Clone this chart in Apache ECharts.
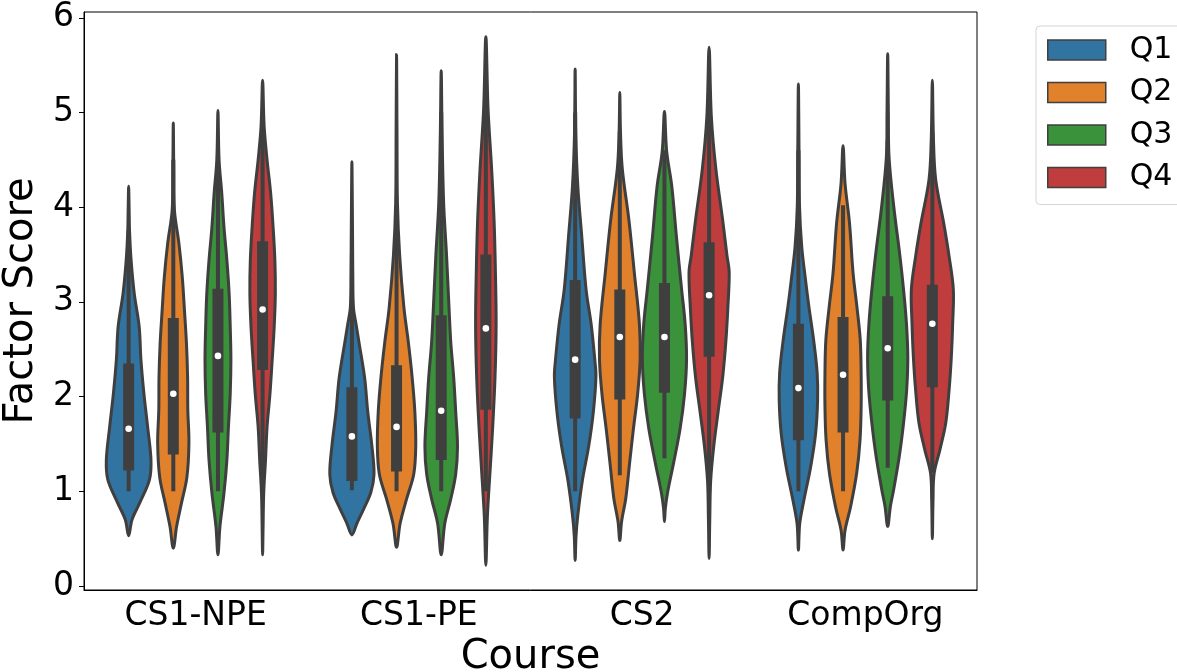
<!DOCTYPE html>
<html>
<head>
<meta charset="utf-8">
<script src="https://cdn.jsdelivr.net/npm/echarts@6/dist/echarts.min.js"></script>
<style>
  html, body { margin: 0; padding: 0; background: #fff; }
  #chart { width: 1177px; height: 672px; }
</style>
</head>
<body>
<div id="chart"></div>
<script>
// categories and hues
var courses = ['CS1-NPE', 'CS1-PE', 'CS2', 'CompOrg'];
var hues = ['Q1', 'Q2', 'Q3', 'Q4'];
var hueColors = ['#3274a1', '#e1812c', '#3a923a', '#c03d3e'];
var yTicks = [0, 1, 2, 3, 4, 5, 6];

// box stats, [hue][course]
var medians   = [[1.66, 1.58, 2.39, 2.09], [2.03, 1.68, 2.63, 2.23], [2.43, 1.85, 2.63, 2.51], [2.92, 2.72, 3.07, 2.77]];
var lowerQ    = [[1.22, 1.11, 1.77, 1.54], [1.39, 1.21, 1.97, 1.62], [1.62, 1.33, 2.04, 1.96], [2.28, 1.86, 2.42, 2.10]];
var upperQ    = [[2.35, 2.10, 3.23, 2.77], [2.83, 2.33, 3.13, 2.84], [3.14, 2.86, 3.20, 3.06], [3.64, 3.50, 3.63, 3.18]];
var whiskerLo = [[1.00, 1.01, 1.00, 1.00], [1.00, 1.00, 1.17, 1.00], [1.00, 1.00, 1.35, 1.25], [1.00, 1.00, 1.00, 1.20]];
var whiskerHi = [[3.75, 3.50, 5.00, 4.60], [4.50, 3.90, 4.80, 4.02], [4.60, 5.00, 4.60, 4.70], [4.90, 5.30, 5.25, 4.80]];

// density profiles [score, relative density], one list per course
var q1Density = [
  [[0.53,0],[0.70,0.15],[0.88,0.5],[1.12,0.93],[1.33,1.0],[1.68,0.85],[2.04,0.68],[2.39,0.55],[2.74,0.47],[3.09,0.25],[3.44,0.11],[3.75,0.04],[4.0,0.02],[4.22,0]],
  [[0.54,0],[0.66,0.22],[0.81,0.52],[0.99,0.85],[1.18,0.99],[1.47,0.9],[1.84,0.71],[2.20,0.57],[2.57,0.32],[2.76,0.19],[2.94,0.07],[3.3,0.04],[3.67,0.03],[4.0,0.02],[4.48,0]],
  [[0.27,0],[0.53,0.04],[0.75,0.12],[1.11,0.32],[1.48,0.61],[1.85,0.82],[2.21,0.93],[2.39,0.88],[2.76,0.72],[3.13,0.49],[3.68,0.3],[4.22,0.12],[4.77,0.03],[5.46,0]],
  [[0.38,0],[0.66,0.06],[0.91,0.25],[1.26,0.55],[1.61,0.77],[1.96,0.86],[2.25,0.84],[2.60,0.68],[2.95,0.47],[3.23,0.32],[3.58,0.15],[4.01,0.05],[4.53,0.03],[5.30,0]]
];
var q2Density = [
  [[0.40,0],[0.63,0.15],[0.88,0.37],[1.15,0.61],[1.51,0.7],[1.86,0.65],[2.21,0.64],[2.56,0.59],[2.91,0.5],[3.27,0.4],[3.62,0.25],[3.97,0.05],[4.4,0.02],[4.89,0]],
  [[0.41,0],[0.66,0.16],[0.92,0.45],[1.18,0.77],[1.47,0.86],[1.84,0.82],[2.20,0.7],[2.57,0.53],[2.94,0.33],[3.49,0.14],[4.04,0.04],[4.8,0.02],[5.61,0]],
  [[0.48,0],[0.68,0.08],[0.93,0.27],[1.30,0.44],[1.66,0.61],[2.03,0.8],[2.39,0.91],[2.76,0.88],[3.31,0.65],[3.86,0.41],[4.41,0.11],[4.8,0.03],[5.21,0]],
  [[0.38,0],[0.59,0.09],[0.84,0.34],[1.19,0.61],[1.54,0.76],[1.89,0.81],[2.25,0.81],[2.60,0.77],[2.95,0.62],[3.30,0.45],[3.83,0.29],[4.25,0.09],[4.65,0]]
];
var q3Density = [
  [[0.33,0],[0.63,0.09],[0.98,0.27],[1.33,0.4],[1.68,0.47],[2.03,0.55],[2.39,0.58],[2.74,0.55],[3.09,0.5],[3.44,0.4],[3.79,0.27],[4.15,0.17],[4.50,0.05],[5.02,0]],
  [[0.33,0],[0.66,0.16],[0.92,0.43],[1.18,0.65],[1.47,0.73],[1.84,0.65],[2.20,0.56],[2.57,0.43],[2.94,0.35],[3.49,0.24],[4.04,0.11],[4.77,0.04],[5.44,0]],
  [[0.68,0],[0.82,0.04],[1.0,0.15],[1.30,0.41],[1.66,0.7],[2.03,0.9],[2.39,0.99],[2.76,0.93],[3.13,0.77],[3.68,0.54],[4.22,0.33],[4.59,0.1],[5.01,0]],
  [[0.63,0],[0.84,0.12],[1.01,0.26],[1.37,0.52],[1.72,0.71],[2.07,0.85],[2.42,0.9],[2.77,0.84],[3.13,0.71],[3.48,0.55],[4.01,0.27],[4.53,0.06],[5.0,0.03],[5.62,0]]
];
var q4Density = [
  [[0.33,0],[0.6,0.02],[0.98,0.05],[1.33,0.13],[1.68,0.2],[2.03,0.33],[2.39,0.43],[2.74,0.52],[3.09,0.57],[3.44,0.55],[3.79,0.47],[4.15,0.36],[4.50,0.2],[4.85,0.07],[5.34,0]],
  [[0.22,0],[0.74,0.07],[1.18,0.18],[1.65,0.3],[2.20,0.41],[2.76,0.46],[3.30,0.43],[3.85,0.37],[4.40,0.26],[5.03,0.1],[5.80,0]],
  [[0.29,0],[0.7,0.03],[1.11,0.07],[1.48,0.21],[1.85,0.41],[2.21,0.61],[2.58,0.75],[2.94,0.84],[3.31,0.9],[3.49,0.8],[3.86,0.61],[4.41,0.3],[4.96,0.1],[5.69,0]],
  [[0.50,0],[0.9,0.03],[1.19,0.08],[1.44,0.34],[1.72,0.6],[2.07,0.75],[2.42,0.85],[2.77,0.91],[3.13,0.94],[3.48,0.75],[3.83,0.51],[4.29,0.15],[4.71,0.05],[5.34,0]]
];
var densities = [q1Density, q2Density, q3Density, q4Density];

var EDGE = '#3f3f3f';
var FONT = 'DejaVu Sans';

function violinRenderer(h) {
  return function (params, api) {
    var c = api.value(0);
    var base = api.coord([c, 0]);
    var band = api.size([1, 0])[0];
    var cx = base[0] + (h - 1.5) * band * 0.2;
    var half = band * 0.1;
    var prof = densities[h][c];
    var right = prof.map(function (p) { return [cx + p[1] * half, api.coord([c, p[0]])[1]]; });
    var left = prof.slice(1, -1).reverse().map(function (p) { return [cx - p[1] * half, api.coord([c, p[0]])[1]]; });
    var yLo = api.coord([c, whiskerLo[h][c]])[1];
    var yHi = api.coord([c, whiskerHi[h][c]])[1];
    var yQ1 = api.coord([c, lowerQ[h][c]])[1];
    var yQ3 = api.coord([c, upperQ[h][c]])[1];
    var yMed = api.coord([c, medians[h][c]])[1];
    var boxW = 11;
    return {
      type: 'group',
      children: [
        {
          type: 'polygon',
          shape: { points: right.concat(left), smooth: 0.35 },
          style: { fill: hueColors[h], stroke: EDGE, lineWidth: 3 }
        },
        {
          type: 'line',
          shape: { x1: cx, y1: yLo, x2: cx, y2: yHi },
          style: { stroke: EDGE, lineWidth: 4 }
        },
        {
          type: 'rect',
          shape: { x: cx - boxW / 2, y: yQ3, width: boxW, height: yQ1 - yQ3 },
          style: { fill: EDGE }
        },
        {
          type: 'circle',
          shape: { cx: cx, cy: yMed, r: 3.3 },
          style: { fill: '#fff' }
        }
      ]
    };
  };
}

var chart = echarts.init(document.getElementById('chart'));

var series = hues.map(function (name, h) {
  return {
    name: name,
    type: 'custom',
    renderItem: violinRenderer(h),
    itemStyle: { color: hueColors[h], borderColor: EDGE, borderWidth: 1.5 },
    data: courses.map(function (cname, c) { return [c, medians[h][c]]; })
  };
});

var option = {
  animation: false,
  backgroundColor: '#fff',
  textStyle: { fontFamily: FONT },
  grid: {
    left: 84, right: 200, top: 12, bottom: 82,
    outerBoundsMode: 'none',
    containLabel: false,
    show: true, borderColor: '#000', borderWidth: 1, backgroundColor: 'transparent'
  },
  legend: {
    orient: 'vertical',
    left: 1036,
    top: 26,
    padding: [9, 60, 12, 11],
    itemWidth: 58,
    itemHeight: 20,
    itemGap: 12.5,
    icon: 'rect',
    borderColor: '#d5d5d5',
    borderWidth: 1,
    borderRadius: 4,
    textStyle: { fontFamily: FONT, fontSize: 30, color: '#000', lineHeight: 26, padding: [0, 0, 0, 19] },
    data: hues.map(function (name, h) {
      return { name: name, itemStyle: { color: hueColors[h], borderColor: EDGE, borderWidth: 1.5 } };
    })
  },
  xAxis: {
    type: 'category',
    data: courses,
    boundaryGap: true,
    name: 'Course',
    nameLocation: 'middle',
    nameGap: 42,
    nameTextStyle: { fontFamily: FONT, fontSize: 40, color: '#000', verticalAlign: 'top' },
    axisLine: { onZero: false, lineStyle: { color: '#000', width: 1 } },
    axisTick: { alignWithLabel: true, length: 5, lineStyle: { color: '#000' } },
    axisLabel: { fontFamily: FONT, fontSize: 33, color: '#000', margin: 10 },
    splitLine: { show: false }
  },
  yAxis: {
    type: 'value',
    min: -0.042,
    max: 6.061,
    name: 'Factor Score',
    nameLocation: 'middle',
    nameGap: 42,
    nameTextStyle: { fontFamily: FONT, fontSize: 40, color: '#000' },
    axisLine: { show: true, onZero: false, lineStyle: { color: '#000', width: 1 } },
    axisTick: { show: true, length: 5, customValues: yTicks, lineStyle: { color: '#000' } },
    axisLabel: { fontFamily: FONT, fontSize: 33, color: '#000', margin: 10, customValues: yTicks },
    splitLine: { show: false }
  },
  series: series
};

chart.setOption(option);
</script>
</body>
</html>
